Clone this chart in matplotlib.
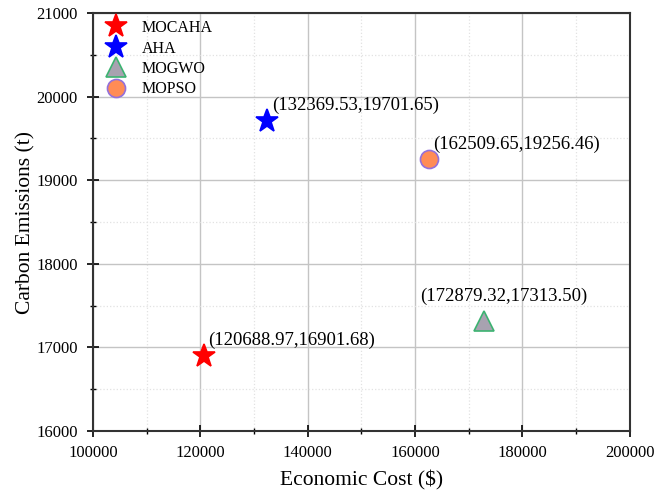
import matplotlib
matplotlib.use('Agg')
from matplotlib import pyplot as plt
from matplotlib.ticker import MultipleLocator

plt.rcParams['font.family'] = ['Liberation Serif', 'DejaVu Serif']

# Pareto results of each algorithm
names = ['MOCAHA', 'AHA', 'MOGWO', 'MOPSO']
cost = [120688.97, 132369.53, 172879.32, 162509.65]
emission = [16901.68, 19701.65, 17313.50, 19256.46]

markers = ['*', '*', '^', 'o']
faces = ['#ff0000', '#0000ff', '#a8a2b0', '#ff8c55']
edges = ['#ff0000', '#0000ff', '#3cb371', '#9370db']
sizes = [17, 17, 14, 13]
# where each value label sits relative to its point (points)
offsets = [(3, 7.5), (3.5, 8.5), (-46, 14.5), (3.5, 7)]

fig = plt.figure(figsize=(6.56, 4.95), dpi=100)
ax1 = fig.add_axes([0.142, 0.129, 0.818, 0.845])

for i in range(len(names)):
    ax1.plot(cost[i], emission[i], linestyle='none', marker=markers[i],
             markersize=sizes[i], markerfacecolor=faces[i],
             markeredgecolor=edges[i], markeredgewidth=1.2,
             label=names[i], zorder=3)
    ax1.annotate('(%.2f,%.2f)' % (cost[i], emission[i]),
                 (cost[i], emission[i]), xytext=offsets[i],
                 textcoords='offset points', fontsize=13.5, zorder=4)

ax1.set(xlim=(100000, 200000), ylim=(16000, 21000))
ax1.xaxis.set_major_locator(MultipleLocator(20000))
ax1.xaxis.set_minor_locator(MultipleLocator(10000))
ax1.yaxis.set_major_locator(MultipleLocator(1000))
ax1.yaxis.set_minor_locator(MultipleLocator(500))

ax1.grid(which='major', color='#c4c4c4', linewidth=1.0)
ax1.grid(which='minor', color='#e2e2e2', linestyle=':', linewidth=0.9)
ax1.set_axisbelow(True)

ax1.tick_params(which='major', direction='inout', length=8, width=1.2,
                labelsize=12, top=False, right=False)
ax1.tick_params(axis='x', which='major', pad=6)
ax1.tick_params(axis='y', which='major', pad=7)
ax1.tick_params(which='minor', direction='inout', length=5, width=1.0,
                top=False, right=False)
for s in ax1.spines.values():
    s.set_linewidth(1.5)
    s.set_color('#333333')

ax1.set_xlabel('Economic Cost ($)', fontsize=15.5, labelpad=7)
ax1.set_ylabel('Carbon Emissions (t)', fontsize=15.5, labelpad=1)

leg = ax1.legend(loc='upper left', frameon=False, fontsize=11.5,
                 handletextpad=0.6, labelspacing=0.28,
                 borderaxespad=0.05, markerscale=1.0)

plt.savefig('out.png', dpi=100)
